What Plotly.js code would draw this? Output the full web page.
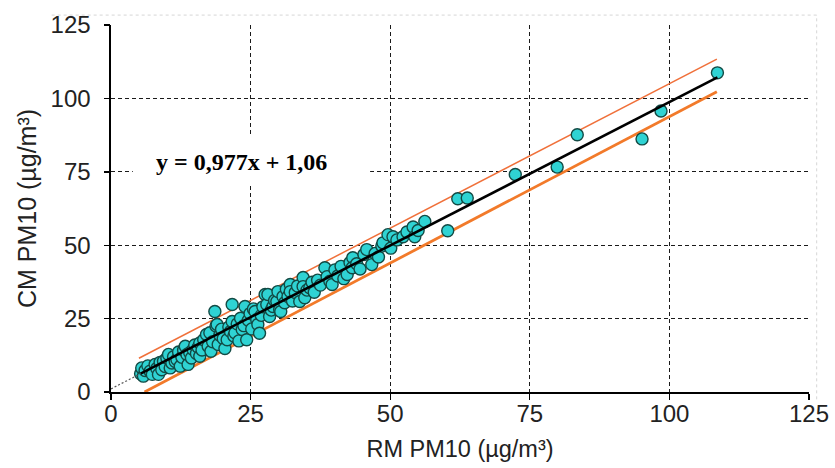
<!DOCTYPE html>
<html>
<head>
<meta charset="utf-8">
<script src="https://cdn.plot.ly/plotly-3.0.1.min.js"></script>
<style>
  html, body { margin: 0; padding: 0; background: #fff; }
  #chart { width: 835px; height: 468px; }
</style>
</head>
<body>
<div id="chart"></div>
<script>
// Paired PM10 measurements: reference method (RM) vs candidate method (CM), µg/m³
const rmPM10 = [5.3, 5.5, 5.8, 6.1, 6.6, 7.0, 7.4, 7.9, 8.2, 8.5, 8.8, 9.1, 9.4, 9.7, 10.0, 10.3, 10.6, 10.9, 11.2, 11.5,
  11.8, 12.1, 12.4, 12.7, 13.0, 13.3, 13.6, 13.8, 14.1, 14.4, 14.7, 15.0, 15.3, 15.6, 15.9, 15.9, 16.3, 16.6, 17.1, 17.4,
  17.7, 17.9, 18.2, 18.6, 18.8, 19.0, 19.2, 19.5, 19.8, 20.1, 20.4, 20.8, 21.1, 21.4, 21.7, 21.7, 22.0, 22.2, 22.6, 22.9,
  23.2, 23.5, 23.8, 24.0, 24.3, 24.6, 24.9, 25.2, 25.5, 25.8, 26.1, 26.3, 26.6, 26.9, 27.2, 27.6, 27.9, 28.1, 28.4, 28.7,
  29.0, 29.3, 29.7, 29.9, 30.2, 30.4, 30.8, 31.1, 31.4, 31.7, 32.1, 32.1, 32.5, 33.0, 33.4, 33.8, 34.4, 34.4, 34.7, 35.1,
  35.6, 36.0, 36.4, 37.0, 37.5, 38.3, 38.7, 39.2, 39.6, 40.1, 40.6, 41.2, 41.7, 42.3, 42.8, 43.3, 43.2, 44.0, 44.6, 45.3,
  45.8, 46.7, 47.3, 47.9, 48.5, 48.7, 49.6, 50.1, 50.5, 51.2, 52.3, 53.0, 54.1, 54.4, 55.0, 56.2, 60.3, 62.1, 63.8, 72.4,
  79.9, 83.5, 95.1, 98.5, 108.6];
const cmPM10 = [6.2, 8.2, 5.4, 7.3, 8.9, 7.1, 6.0, 9.4, 8.0, 6.0, 10.1, 7.6, 10.5, 8.7, 11.6, 12.8, 8.2, 9.9, 12.0, 10.4,
  11.1, 13.6, 8.8, 11.8, 14.2, 15.6, 12.8, 9.4, 13.4, 11.6, 14.5, 16.0, 13.1, 15.2, 16.7, 12.2, 14.3, 17.8, 19.6, 15.6,
  20.2, 13.9, 17.1, 27.4, 22.5, 23.0, 16.2, 19.3, 21.4, 18.2, 14.8, 17.8, 22.1, 20.6, 29.8, 24.0, 19.1, 20.2, 23.2, 17.4,
  25.1, 21.3, 22.6, 29.1, 17.8, 24.4, 26.7, 21.5, 28.3, 27.4, 24.6, 23.0, 20.0, 26.1, 29.0, 33.2, 29.8, 33.2, 25.7, 27.9,
  29.1, 31.2, 30.8, 34.2, 28.1, 27.4, 32.5, 30.4, 35.0, 32.5, 36.6, 34.2, 31.0, 33.9, 36.1, 30.8, 39.0, 35.9, 32.1, 34.7,
  35.5, 37.4, 34.0, 38.1, 36.4, 42.3, 39.3, 37.7, 36.6, 41.6, 39.5, 42.8, 38.6, 40.0, 44.1, 45.7, 42.3, 43.7, 41.9, 46.8,
  48.5, 43.4, 47.2, 46.0, 49.7, 50.8, 53.6, 49.0, 52.9, 51.8, 52.9, 54.5, 56.2, 52.9, 55.0, 58.1, 54.9, 65.8, 66.1, 74.1,
  76.6, 87.6, 86.2, 95.7, 108.7];

// Regression fit and its band (end points of each line)
const fitX = [5.3, 108.6];
const fitY = fitX.map(x => 0.977 * x + 1.06);
const fitExtX = [0, 5.3];
const fitExtY = fitExtX.map(x => 0.977 * x + 1.06);
const upperX = [5.0, 108.5];
const upperY = [11.5, 113.4];
const lowerX = [6.0, 108.5];
const lowerY = [0.0, 102.3];

const equationText = 'y = 0,977x + 1,06';
const axisTicks = [0, 25, 50, 75, 100, 125];
const axisRange = [0, 125];

const traces = [
  { x: fitExtX, y: fitExtY, yaxis: 'y2', mode: 'lines', hoverinfo: 'skip',
    line: { color: '#555', width: 1.2, dash: '2px,2px' } },
  { x: lowerX, y: lowerY, mode: 'lines', hoverinfo: 'skip',
    line: { color: '#f27a2a', width: 2.8 } },
  { x: upperX, y: upperY, mode: 'lines', hoverinfo: 'skip',
    line: { color: '#f0703a', width: 1.5 } },
  { x: rmPM10, y: cmPM10, mode: 'markers', name: 'PM10',
    marker: { size: 12, color: '#2fd3d3', line: { color: '#124a44', width: 1.4 } } },
  { x: fitX, y: fitY, mode: 'lines', hoverinfo: 'skip',
    line: { color: '#000', width: 2.6 } }
];

const fontSans = 'Liberation Sans, Arial, sans-serif';

const axisCommon = {
  range: axisRange,
  tickvals: axisTicks,
  ticktext: axisTicks.map(String),
  showgrid: true,
  gridcolor: '#1a1a1a',
  gridwidth: 1.2,
  griddash: '4px,3px',
  zeroline: false,
  showline: true,
  linecolor: '#000',
  linewidth: 1.6,
  ticks: 'outside',
  ticklen: 6,
  tickwidth: 1.4,
  tickcolor: '#000',
  tickfont: { family: fontSans, size: 24, color: '#222' },
  fixedrange: true
};

const layout = {
  width: 835,
  height: 468,
  margin: { l: 111, r: 26, t: 25, b: 76 },
  paper_bgcolor: '#fff',
  plot_bgcolor: '#fff',
  showlegend: false,
  xaxis: Object.assign({}, axisCommon, {
    ticklabelstandoff: -6,
    title: { text: 'RM PM10 (µg/m³)', standoff: 14,
      font: { family: fontSans, size: 23.5, color: '#222' } }
  }),
  // value labels sit a little further out; their tick marks come from the overlay axis below
  yaxis: Object.assign({}, axisCommon, {
    ticklen: 14,
    tickcolor: 'rgba(0,0,0,0)',
    title: { text: 'CM PM10 (µg/m³)', standoff: 7,
      font: { family: fontSans, size: 25, color: '#222' } }
  }),
  yaxis2: {
    overlaying: 'y',
    side: 'left',
    anchor: 'x',
    range: axisRange,
    tickvals: axisTicks,
    showticklabels: false,
    showgrid: false,
    zeroline: false,
    showline: false,
    ticks: 'outside',
    ticklen: 6,
    tickwidth: 1.4,
    tickcolor: '#000',
    fixedrange: true
  },
  shapes: [
    // faint frame around the chart area
    { type: 'line', xref: 'paper', yref: 'paper', x0: -0.085, x1: 1.011, y0: 1.027, y1: 1.027,
      line: { color: '#d6d6d6', width: 1, dash: 'dot' } },
    { type: 'line', xref: 'paper', yref: 'paper', x0: 1.011, x1: 1.011, y0: -0.02, y1: 1.027,
      line: { color: '#d6d6d6', width: 1, dash: 'dot' } },
    // white panel behind the regression equation
    { type: 'rect', xref: 'x', yref: 'y', x0: 3.9, x1: 46.4, y0: 71.2, y1: 87.6, layer: 'between',
      fillcolor: '#fff', line: { width: 0 } }
  ],
  annotations: [
    { x: 23.3, y: 78.4, xref: 'x', yref: 'y', text: '<b>' + equationText + '</b>', showarrow: false,
      xanchor: 'center', yanchor: 'middle',
      font: { family: 'Liberation Serif, Times New Roman, serif', size: 24, color: '#000' } }
  ]
};

Plotly.newPlot('chart', traces, layout, { displayModeBar: false, staticPlot: true });
</script>
</body>
</html>
